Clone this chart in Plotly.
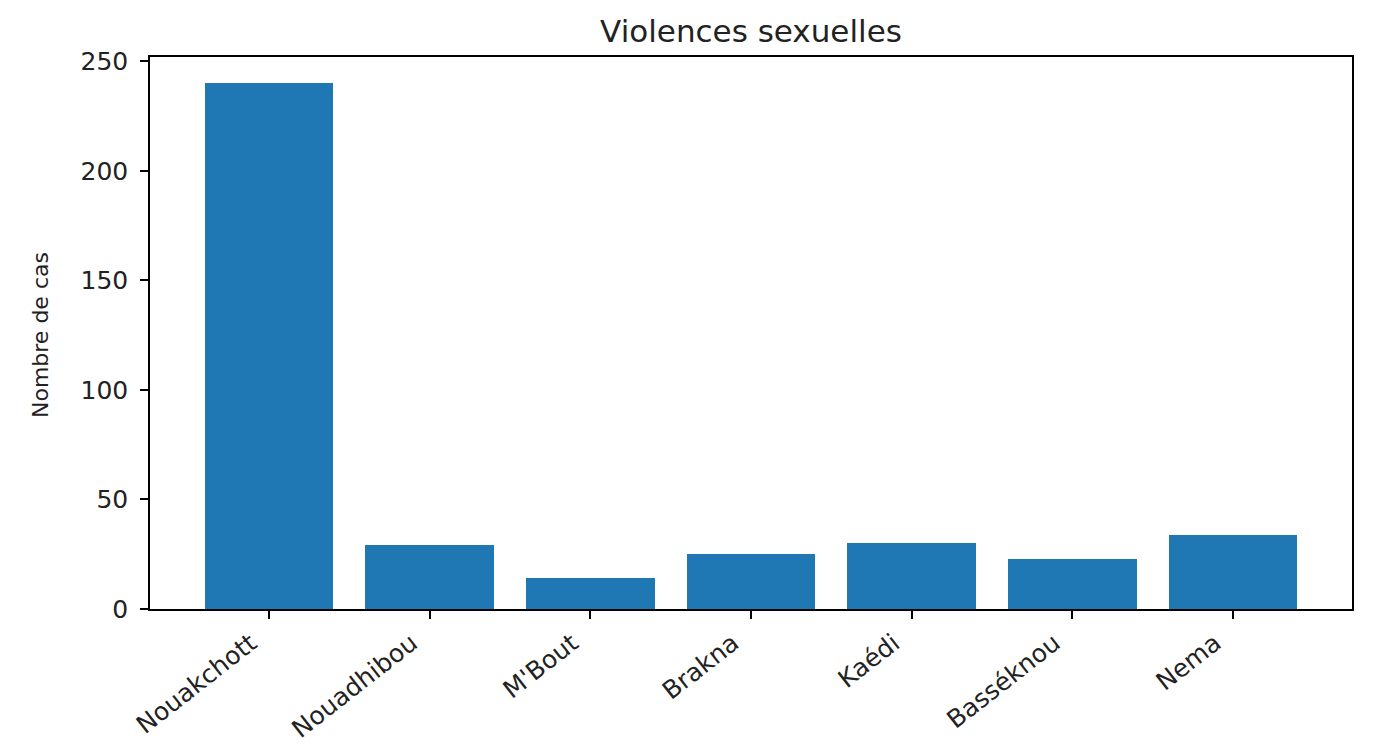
import plotly.graph_objects as go

categories = ["Nouakchott", "Nouadhibou", "M'Bout", "Brakna", "Kaédi", "Basséknou", "Nema"]
values = [240, 29, 14, 25, 30, 23, 34]
y_ticks = [0, 50, 100, 150, 200, 250]

OFF = 8  # browser body margin
W, H = 1375 - OFF, 744 - OFF
L, R, T, B = 150 - OFF, 1352 - OFF, 57 - OFF, 609 - OFF

fig = go.Figure(go.Bar(
    x=list(range(len(categories))), y=values, width=0.8,
    marker=dict(color="#1f77b4", line=dict(width=0)),
))

fig.add_annotation(
    text="Nombre de cas", textangle=-90, xref="paper", yref="paper",
    x=(40 - OFF - L) / (R - L), y=(B - (335 - OFF)) / (B - T),
    xanchor="center", yanchor="middle", showarrow=False,
    font=dict(size=22, color="#222222"),
)

fig.update_layout(
    width=W, height=H,
    margin=dict(l=L, r=W - R, t=T, b=H - B, autoexpand=False),
    paper_bgcolor="white", plot_bgcolor="white",
    font=dict(family="DejaVu Sans", color="#222222"),
    title=dict(text="Violences sexuelles", x=(L + R) / 2 / W, xanchor="center",
               y=1 - (31 - OFF) / H, yanchor="middle", font=dict(size=31, color="#222222")),
    showlegend=False,
    bargap=0,
)
fig.update_xaxes(
    range=[-0.74, 6.74], tickmode="array", tickvals=list(range(len(categories))),
    ticktext=categories, tickangle=-38, tickfont=dict(size=25),
    ticklabelshift=-18, ticklabelstandoff=0,
    showline=True, linecolor="black", linewidth=1.5, mirror=True,
    ticks="outside", ticklen=8, tickwidth=1.5, tickcolor="black",
    showgrid=False, zeroline=False,
)
fig.update_yaxes(
    range=[0, 252], tickmode="array", tickvals=y_ticks, tickfont=dict(size=25),
    ticklabelstandoff=7,
    showline=True, linecolor="black", linewidth=1.5, mirror=True,
    ticks="outside", ticklen=8, tickwidth=1.5, tickcolor="black",
    showgrid=False, zeroline=False,
)

fig.write_html("out.html")
